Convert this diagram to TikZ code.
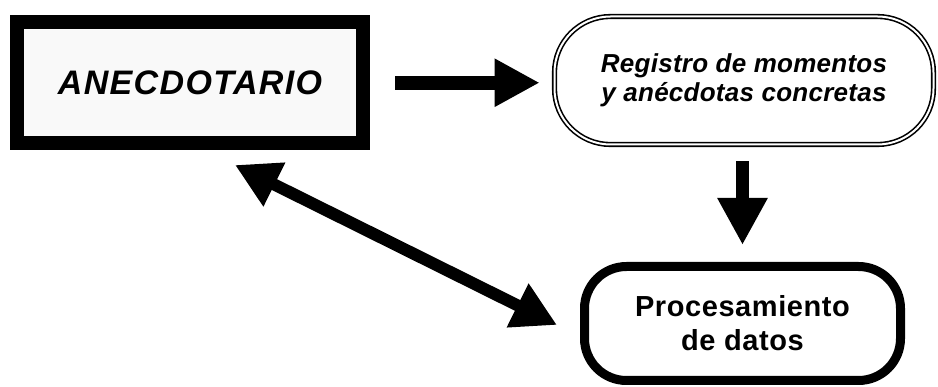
\documentclass[tikz,border=0pt]{standalone}
\usepackage{fontspec}
\setmainfont{Liberation Sans}
\usetikzlibrary{arrows.meta}

\tikzset{
  anecbox/.style={draw, line width=14pt, fill=gray!5, inner sep=0pt,
    minimum width=346pt, minimum height=121.5pt,
    font=\fontsize{34}{36}\selectfont\bfseries\itshape\addfontfeatures{LetterSpace=4}},
  regbox/.style={draw, double=white, line width=1.6pt, double distance=2pt,
    rounded corners=56pt, inner sep=0pt, align=center,
    minimum width=379pt, minimum height=128pt,
    font=\fontsize{26}{29}\selectfont\bfseries\itshape\addfontfeatures{LetterSpace=1}},
  procbox/.style={draw, line width=9pt, rounded corners=42pt, inner sep=0pt,
    align=center, minimum width=316pt, minimum height=114pt,
    font=\fontsize{29}{34}\selectfont\bfseries\addfontfeatures{LetterSpace=2}},
  flow/.style={line width=#1, draw=black},
}

\begin{document}
\begin{tikzpicture}[x=1pt, y=-1pt]
  \useasboundingbox[fill=white] (0,0) rectangle (938,387);

  % boxes
  \node[anecbox] (anec) at (190,82.75) {ANECDOTARIO};
  \node[regbox] (reg) at (744,80.5) {Registro de momentos\\y anécdotas concretas};
  \node[procbox] (proc) at (742.5,323.5) {Procesamiento\\de datos};

  % connectors
  \draw[flow=14pt, -{Triangle[length=45pt,width=45pt]},
        shorten <=25pt, shorten >=14pt]
    (anec.east) -- (anec.east -| reg.west);
  \draw[flow=13pt, -{Triangle[length=47pt,width=47pt]},
        shorten <=16pt, shorten >=17pt]
    (proc.north |- reg.south) -- (proc.north);

  \coordinate (d1) at (235,165);
  \coordinate (d2) at (557,325);
  \draw[flow=12pt, {Triangle[length=44pt,width=46pt]}-{Triangle[length=44pt,width=46pt]}]
    (d1) -- (d2);
\end{tikzpicture}
\end{document}
